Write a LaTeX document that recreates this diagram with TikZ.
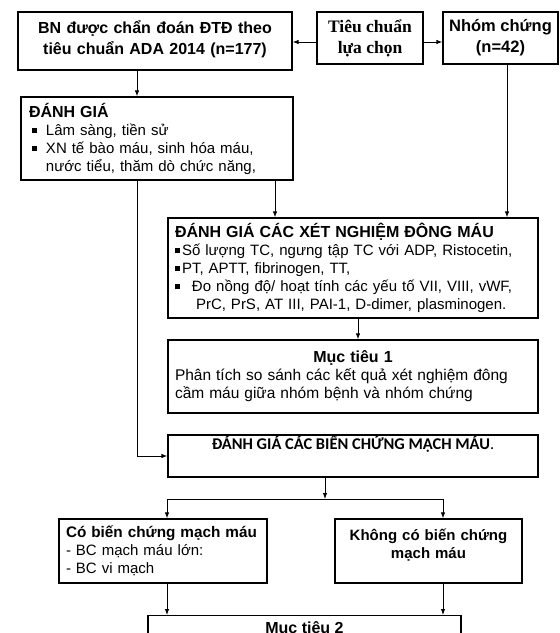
\documentclass[tikz,border=0pt]{standalone}
\usepackage{fontspec}
\setmainfont{Liberation Sans}
\newfontfamily\serifTNR{Liberation Serif}
\newfontfamily\calibrifont{Carlito}
\usetikzlibrary{arrows.meta}
\newcommand\bsq{\rule[0.15em]{0.33em}{0.33em}}
\newcommand\bitem[2][14pt]{\makebox[#1][l]{\bsq}#2}
\begin{document}
\begin{tikzpicture}[x=1pt,y=-1pt,
  box/.style={draw, line width=1.3pt, inner sep=0pt, inner xsep=9pt},
  arr/.style={line width=0.9pt, -{Latex[length=6pt,width=4.5pt]}},
  ln/.style={line width=0.9pt},
  hdfont/.style={font=\fontsize{16}{21}\selectfont\bfseries},
  bodyfont/.style={font=\fontsize{15}{18}\selectfont}]
\clip (0,0) rectangle (560,633);
\fill[white] (0,0) rectangle (560,633);

\node[box, hdfont, minimum width=274pt, minimum height=58pt, text width=260pt, inner xsep=7pt, align=center] (b1) at (155,41)
  {BN được chẩn đoán ĐTĐ theo\\ tiêu chuẩn ADA 2014 (n=177)\\[-14pt]\mbox{}};
\node[box, font=\serifTNR\fontsize{17.5}{21}\selectfont\bfseries, minimum width=106pt, minimum height=52pt, inner xsep=3pt, align=center] (tc) at (370,38)
  {Tiêu chuẩn\\lựa chọn};
\node[box, font=\fontsize{16.5}{21}\selectfont\bfseries, minimum width=115pt, minimum height=52pt, inner xsep=2pt, align=center] (nc) at (500.5,38)
  {Nhóm chứng\\(n=42)};

\node[box, bodyfont, minimum width=272pt, minimum height=83pt, text width=256pt, inner xsep=8pt, align=left] (dg) at (157,138.5)
  {{\bfseries\fontsize{16}{18}\selectfont ĐÁNH GIÁ}\\
   \hspace*{3pt}\bitem{Lâm sàng, tiền sử}\\
   \hspace*{3pt}\bitem{XN tế bào máu, sinh hóa máu,}\\
   \hspace*{17pt}nước tiểu, thăm dò chức năng,};

\node[box, bodyfont, minimum width=370pt, minimum height=100pt, text width=356pt, inner xsep=7pt, align=left] (xn) at (353,268)
  {{\bfseries\fontsize{16}{18}\selectfont ĐÁNH GIÁ CÁC XÉT NGHIỆM ĐÔNG MÁU}\\
   \bitem[7pt]{Số lượng TC, ngưng tập TC với ADP, Ristocetin,}\\
   \bitem[7pt]{PT, APTT, fibrinogen, TT,}\\
   \bitem[17pt]{Đo nồng độ/ hoạt tính các yếu tố VII, VIII, vWF,}\\
   \hspace*{21pt}PrC, PrS, AT III, PAI-1, D-dimer, plasminogen.};

\node[box, bodyfont, minimum width=370pt, minimum height=73pt, text width=356pt, inner xsep=7pt, align=left] (mt1) at (353,376.5)
  {\makebox[356pt][c]{\bfseries\fontsize{16}{18}\selectfont Mục tiêu 1}\\
   {\fontsize{15.5}{19}\selectfont Phân tích so sánh các kết quả xét nghiệm đông}\\
   {\fontsize{15.5}{19}\selectfont cầm máu giữa nhóm bệnh và nhóm chứng}};

\node[box, font=\calibrifont\fontsize{16.4}{18}\selectfont, minimum width=370pt, minimum height=42pt, text height=11pt, text depth=25pt] (bcm) at (353,456)
  {\textbf{ĐÁNH GIÁ CÁC BIẾN CHỨNG MẠCH MÁU}.};

\node[box, font=\fontsize{15}{18}\selectfont, minimum width=208pt, minimum height=64pt, text width=194pt, inner xsep=7pt, align=left] (co) at (163,551)
  {{\bfseries\fontsize{15.3}{18}\selectfont Có biến chứng mạch máu}\\
   - BC mạch máu lớn:\\
   - BC vi mạch};
\node[box, font=\fontsize{15}{18}\selectfont\bfseries, minimum width=187pt, minimum height=64pt, text width=177pt, inner xsep=5pt, align=center] (kh) at (428.5,551)
  {Không có biến chứng\\ mạch máu\\[-4pt]\mbox{}};

\node[box, hdfont, anchor=north, minimum width=313pt, inner ysep=0pt, text height=18pt, text depth=20pt] (mt2) at (304.5,615)
  {Mục tiêu 2};

% connectors
\coordinate (x1) at (137,0);
\coordinate (x2) at (275,0);
\coordinate (x3) at (507,0);
\coordinate (x4) at (358,0);
\coordinate (jm) at (325,499);
\coordinate (jl) at (167,499);
\coordinate (jr) at (443,499);

\draw[arr] ([yshift=-4pt]tc.west) -- ([yshift=-4pt]b1.east |- tc.west);
\draw[arr] ([yshift=-4pt]tc.east) -- ([yshift=-4pt]nc.west);
\draw[arr] (b1.south -| x1) -- (dg.north -| x1);
\draw[arr] (dg.south -| x1) |- (bcm.west);
\draw[arr] (dg.south -| x2) -- (xn.north -| x2);
\draw[arr] (nc.south -| x3) -- (xn.north -| x3);
\draw[arr] (xn.south -| x4) -- (mt1.north -| x4);
\draw[arr] (bcm.south -| jm) -- (jm);
\draw[ln] (jl) -- (jr);
\draw[arr] (jl) -- (co.north -| jl);
\draw[arr] (jr) -- (kh.north -| jr);
\draw[arr] (co.south -| jl) -- (mt2.north -| jl);
\draw[arr] (kh.south -| jr) -- (mt2.north -| jr);
\end{tikzpicture}
\end{document}
